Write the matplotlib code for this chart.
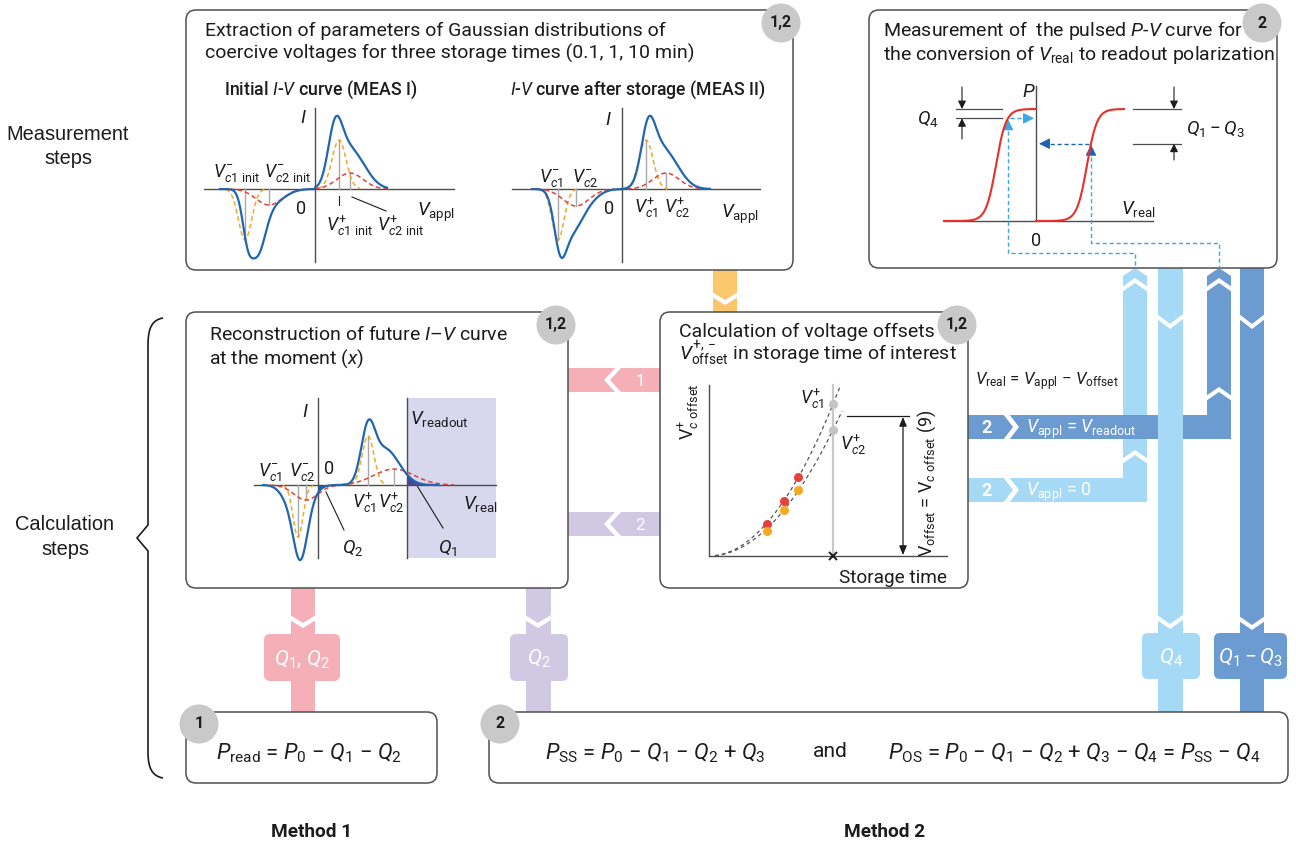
import numpy as np
import matplotlib
matplotlib.use("Agg")
import matplotlib.pyplot as plt
from matplotlib.patches import FancyBboxPatch, Circle, Polygon, Rectangle, PathPatch
from matplotlib.path import Path

W, H = 1296, 844

# ---- Gaussian components (centre, amplitude, width) of the I-V sketches ----
init_blue = [(20, 50, 7), (30, 28, 11), (44, 20, 12), (-68, -30, 5), (-58, -56, 8), (-44, -14, 13)]
init_orange = [(24, 49, 7), (-70, -51, 6.5)]
init_red = [(35, 16, 13), (-46, -16, 13)]

stor_blue = [(26, 50, 7), (36, 28, 11), (50, 20, 12), (-62, -44, 6), (-52, -34, 10), (-38, -14, 12)]
stor_orange = [(24, 49, 7), (-64, -51, 6)]
stor_red = [(44, 16, 13), (-46, -17, 13)]

fut_blue = [(50, 54, 7), (66, 30, 11), (80, 10, 11), (-18, -60, 7), (-12, -14, 9), (-30, -12, 8)]
fut_orange = [(50, 49, 6), (-20, -52, 5)]
fut_red = [(76, 16, 20), (-12, -15, 12)]
v_readout = 89

# ---- coercive-voltage offsets versus storage time ----
t_meas = [0.58, 0.75, 0.89]
vc1_meas = [0.32, 0.55, 0.79]
vc2_meas = [0.25, 0.46, 0.66]
t_interest = 1.24
v_offset_mark = 1.40

# ---- pulsed P-V curve ----
p_sat = 112
vc_neg, vc_pos = -40, 51
pv_width = 10
v_os, v_ss = -28, 55

INK = '#1c1c1c'
C_BLUE = '#2166b0'
C_ORANGE = '#f4a825'
C_RED = '#e5413b'
C_AX = '#4d4d4d'
C_GRID = '#a8a8a8'
PINK = '#f5b0b7'
LAV = '#d1c9e3'
ORANGE_R = '#fbc76d'
LBLUE = '#a5d9f5'
MBLUE = '#6b9bd1'
DASH_L = '#3aa6e6'
DASH_D = '#1d62b4'

plt.rcParams['font.family'] = ['Roboto', 'DejaVu Sans']
plt.rcParams['mathtext.fontset'] = 'custom'
plt.rcParams['mathtext.rm'] = 'Roboto'
plt.rcParams['mathtext.it'] = 'Roboto:italic'
plt.rcParams['mathtext.bf'] = 'Roboto:bold'
plt.rcParams['mathtext.sf'] = 'Roboto'

fig = plt.figure(figsize=(W / 100, H / 100), dpi=100)
fig.patch.set_facecolor('white')
ax = fig.add_axes([0, 0, 1, 1])
ax.set_xlim(0, W)
ax.set_ylim(H, 0)
ax.axis('off')


def T(x, y, s, size=17, ha='left', color=INK, weight='normal', family=None, rot=0, z=6):
    kw = {}
    if family:
        kw['family'] = family
    if rot:
        ax.text(x, y, s, fontsize=size * 0.72, ha='center', va='center', color=color,
                fontweight=weight, rotation=rot, zorder=z, **kw)
    else:
        ax.text(x, y + 0.36 * size, s, fontsize=size * 0.72, ha=ha, va='baseline',
                color=color, fontweight=weight, zorder=z, **kw)


def box(x0, y0, x1, y1):
    ax.add_patch(FancyBboxPatch((x0, y0), x1 - x0, y1 - y0,
                                boxstyle='round,pad=0,rounding_size=10',
                                fc='white', ec='#505050', lw=1.1, zorder=3))


def badge(x, y, s):
    ax.add_patch(Circle((x, y), 19.5, fc='#c9c9c9', ec='none', zorder=5))
    ax.text(x, y, s, fontsize=16 * 0.72, ha='center', va='center', fontweight='bold',
            color=INK, zorder=6)


def poly(pts, color, z=1):
    ax.add_patch(Polygon(pts, closed=True, fc=color, ec='none', zorder=z))


def rect(x0, y0, x1, y1, color, z=1):
    poly([(x0, y0), (x1, y0), (x1, y1), (x0, y1)], color, z)


def chevron(xc, yc, half, depth, direction, thick=5):
    if direction == 'down':
        pts = [(xc - half, yc - depth), (xc, yc), (xc + half, yc - depth),
               (xc + half, yc - depth + thick), (xc, yc + thick), (xc - half, yc - depth + thick)]
    elif direction == 'up':
        pts = [(xc - half, yc + depth), (xc, yc), (xc + half, yc + depth),
               (xc + half, yc + depth - thick), (xc, yc - thick), (xc - half, yc + depth - thick)]
    elif direction == 'right':
        pts = [(xc - depth, yc - half), (xc, yc), (xc - depth, yc + half),
               (xc - depth + thick, yc + half), (xc + thick, yc), (xc - depth + thick, yc - half)]
    else:
        pts = [(xc + depth, yc - half), (xc, yc), (xc + depth, yc + half),
               (xc + depth - thick, yc + half), (xc - thick, yc), (xc + depth - thick, yc - half)]
    poly(pts, 'white', z=2)


def qbox(x0, y0, x1, y1, color, s):
    ax.add_patch(FancyBboxPatch((x0, y0), x1 - x0, y1 - y0,
                                boxstyle='round,pad=0,rounding_size=6',
                                fc=color, ec='none', zorder=2))
    T((x0 + x1) / 2, (y0 + y1) / 2, s, size=21, ha='center', color='white')


def inset(x0, y0, x1, y1, ox, oy, scale=1.0):
    a = fig.add_axes([x0 / W, 1 - y1 / H, (x1 - x0) / W, (y1 - y0) / H])
    a.set_xlim((x0 - ox) / scale, (x1 - ox) / scale)
    a.set_ylim((oy - y1) / scale, (oy - y0) / scale)
    a.axis('off')
    a.patch.set_visible(False)
    return a


def gauss(x, c, amp, s):
    return amp * np.exp(-0.5 * ((x - c) / s) ** 2)


def curve(x, comps, split):
    y = np.zeros_like(x)
    for c, amp, s in comps:
        g = gauss(x, c, amp, s)
        if split:
            g = np.where(x >= 0, g, 0) if amp > 0 else np.where(x <= 0, g, 0)
        y += g
    return y


def iv_panel(a, blue, orange, red, xl, xr, yb, yt, blue_rng, split=True):
    a.plot([xl, xr], [0, 0], color=C_AX, lw=1.0, zorder=2)
    a.plot([0, 0], [yb, yt], color=C_AX, lw=1.0, zorder=2)
    for comps in (orange, red):
        for c, amp, s in comps:
            a.plot([c, c], [0, amp], color=C_GRID, lw=1.0, zorder=3)
    for comps, col in ((orange, C_ORANGE), (red, C_RED)):
        for c, amp, s in comps:
            lo, hi = c - 3 * s, c + 3 * s
            if split:
                lo, hi = (max(lo, 0), hi) if amp > 0 else (lo, min(hi, 0))
            x = np.linspace(lo, hi, 200)
            a.plot(x, gauss(x, c, amp, s), color=col, lw=1.1, ls=(0, (3, 2)), zorder=4)
    x = np.linspace(blue_rng[0], blue_rng[1], 900)
    y = curve(x, blue, split)
    a.plot(x, y, color=C_BLUE, lw=1.6, zorder=5)
    return x, y


# ---------------- ribbons (drawn under the boxes) ----------------
# orange: measurement -> offsets
rect(713, 262, 737, 320, ORANGE_R)
chevron(725, 300, 13, 8, 'down')
# pink / lavender horizontal: offsets -> reconstruction
rect(560, 368, 668, 392, PINK)
chevron(610, 380, 13, 12, 'left', thick=6)
T(640, 380, '1', size=17, ha='center', color='white')
rect(560, 512, 668, 536, LAV)
chevron(610, 524, 13, 12, 'left', thick=6)
T(640, 524, '2', size=17, ha='center', color='white')
# pink / lavender vertical: reconstruction -> results
rect(291, 580, 315, 720, PINK)
chevron(303, 623, 13, 8, 'down')
qbox(264, 634, 340, 681, PINK, r'$Q_1$, $Q_2$')
rect(526, 580, 551, 720, LAV)
chevron(538, 623, 13, 8, 'down')
qbox(510, 634, 568, 681, LAV, r'$Q_2$')
# light blue L-shaped ribbon (V_appl = 0)
poly([(960, 478), (1123, 478), (1123, 276), (1135, 268), (1147, 276),
      (1147, 502), (960, 502)], LBLUE)
chevron(1135, 283, 13, 9, 'up')
chevron(1135, 455, 13, 9, 'up')
chevron(1013, 490, 13, 10, 'right', thick=6)
T(987, 490, '2', size=18, ha='center', color='white', weight='bold')
T(1026, 490, r'$V_{\mathrm{appl}}$ = 0', size=18, color='white')
# mid blue L-shaped ribbon (V_appl = V_readout)
poly([(960, 415), (1207, 415), (1207, 276), (1219, 268), (1231, 276),
      (1231, 439), (960, 439)], MBLUE)
chevron(1219, 283, 13, 9, 'up')
chevron(1219, 392, 13, 9, 'up')
chevron(1013, 427, 13, 10, 'right', thick=6)
T(987, 427, '2', size=18, ha='center', color='white', weight='bold')
T(1026, 427, r'$V_{\mathrm{appl}}$ = $V_{\mathrm{readout}}$', size=18, color='white')
# long vertical ribbons: P-V curve -> results
rect(1158, 260, 1183, 720, LBLUE)
chevron(1170, 324, 13, 10, 'down')
chevron(1170, 624, 13, 9, 'down')
qbox(1142, 633, 1200, 679, LBLUE, r'$Q_4$')
rect(1240, 260, 1264, 720, MBLUE)
chevron(1252, 324, 13, 10, 'down')
chevron(1252, 625, 13, 9, 'down')
qbox(1214, 633, 1287, 679, MBLUE, r'$Q_1 - Q_3$')

# ---------------- boxes and badges ----------------
box(186, 10, 793, 270)
box(869, 10, 1277, 268)
box(186, 312, 568, 588)
box(660, 312, 968, 588)
box(186, 712, 437, 783)
box(489, 712, 1288, 783)
badge(781, 23, '1,2')
badge(1262, 23, '2')
badge(556, 325, '1,2')
badge(957, 325, '1,2')
badge(199, 724, '1')
badge(500, 724, '2')

# ---------------- side labels and brace ----------------
T(68, 133, 'Measurement', size=20, ha='center', family='Liberation Sans')
T(68, 157, 'steps', size=20, ha='center', family='Liberation Sans')
T(65, 523, 'Calculation', size=20, ha='center', family='Liberation Sans')
T(65, 548, 'steps', size=20, ha='center', family='Liberation Sans')
brace = Path([(163, 318), (152, 320), (148, 328), (148, 345), (148, 525), (137, 538), (148, 551),
              (148, 752), (148, 768), (152, 776), (163, 778)],
             [Path.MOVETO, Path.CURVE4, Path.CURVE4, Path.CURVE4, Path.LINETO, Path.LINETO,
              Path.LINETO, Path.LINETO, Path.CURVE4, Path.CURVE4, Path.CURVE4])
ax.add_patch(PathPatch(brace, fc='none', ec=INK, lw=1.2, zorder=4))
T(312, 830, 'Method 1', size=19, ha='center', weight='bold')
T(885, 830, 'Method 2', size=19, ha='center', weight='bold')

# ---------------- top-left box: Gaussian extraction ----------------
T(205, 29, 'Extraction of parameters of Gaussian distributions of', size=19.5)
T(205, 52, 'coercive voltages for three storage times (0.1, 1, 10 min)', size=19.5)
T(321, 88, r'Initial $I$-$V$ curve (MEAS I)', size=17.8, ha='center', weight='medium')
T(638, 88, r'$I$-$V$ curve after storage (MEAS II)', size=17.6, ha='center', weight='medium')

a_i = inset(204, 100, 456, 266, 315, 189)
iv_panel(a_i, init_blue, init_orange, init_red, -111, 139, -73, 81, (-95, 72))
T(300, 116, r'$I$', size=19)
T(301, 208, '0', size=18, ha='center')
T(417, 209, r'$V_{\mathrm{appl}}$', size=19)
T(213, 171, r'$V^{-}_{c1\ \mathrm{init}}$', size=18)
T(264, 171, r'$V^{-}_{c2\ \mathrm{init}}$', size=18)
T(326, 225, r'$V^{+}_{c1\ \mathrm{init}}$', size=18)
T(377, 225, r'$V^{+}_{c2\ \mathrm{init}}$', size=18)
ax.plot([339, 339], [196, 205], color=INK, lw=0.8, zorder=5)
ax.plot([352, 386], [197, 211], color=INK, lw=0.8, zorder=5)

a_s = inset(510, 100, 762, 266, 622, 189)
iv_panel(a_s, stor_blue, stor_orange, stor_red, -110, 138, -73, 81, (-90, 88))
T(605, 118, r'$I$', size=19)
T(609, 208, '0', size=18, ha='center')
T(721, 211, r'$V_{\mathrm{appl}}$', size=19)
T(539, 176, r'$V^{-}_{c1}$', size=18)
T(572, 176, r'$V^{-}_{c2}$', size=18)
T(634, 207, r'$V^{+}_{c1}$', size=18)
T(664, 207, r'$V^{+}_{c2}$', size=18)

# ---------------- top-right box: pulsed P-V curve ----------------
T(883, 29, r'Measurement of  the pulsed $P$-$V$ curve for', size=19.5)
T(883, 53, r'the conversion of $V_{\mathrm{real}}$ to readout polarization', size=19.5)

a_pv = inset(940, 80, 1160, 225, 1036, 221)
a_pv.plot([-92, 117], [0, 0], color=C_AX, lw=1.0)
a_pv.plot([0, 0], [0, 135], color=C_AX, lw=1.0)


def pv(v, vc):
    return p_sat / 2 * (1 + np.tanh((v - vc) / pv_width))


vl = np.linspace(-92, 0, 300)
vr = np.linspace(0, 88, 300)
a_pv.plot(vl, pv(vl, vc_neg), color='#e8302a', lw=1.5, zorder=4)
a_pv.plot(vr, pv(vr, vc_pos), color='#e8302a', lw=1.5, zorder=4)
p_os = pv(v_os, vc_neg)
p_ss = pv(v_ss, vc_pos)
dash = (0, (3, 2))
a_pv.plot([v_os, v_os, 99, 99], [p_os - 6, -32, -32, -47], color=DASH_L, lw=1.0, ls=dash,
          clip_on=False, zorder=3)
a_pv.plot([v_ss, v_ss, 183, 183], [p_ss - 6, -22, -22, -47], color=DASH_L, lw=1.0, ls=dash,
          clip_on=False, zorder=3)
a_pv.plot([v_os + 2, -5], [p_os, p_os], color=DASH_L, lw=1.0, ls=dash, zorder=3)
a_pv.plot([v_ss - 2, 6], [p_ss, p_ss], color=DASH_D, lw=1.0, ls=dash, zorder=3)


def head(a, tip, frm, color, ms=11):
    a.annotate('', xy=tip, xytext=frm, annotation_clip=False,
               arrowprops=dict(arrowstyle='-|>,head_length=0.6,head_width=0.3', color=color,
                               lw=0.8, shrinkA=0, shrinkB=0, mutation_scale=ms))


head(a_pv, (v_os, p_os - 1), (v_os, p_os - 8), DASH_L)
head(a_pv, (-2, p_os), (-9, p_os), DASH_L)
head(a_pv, (v_ss, p_ss - 1), (v_ss, p_ss - 8), DASH_D)
head(a_pv, (3, p_ss), (10, p_ss), DASH_D)
# Q4 and Q1 - Q3 markers
for xa, xb, xm, plow, ylow in ((-80, -34, -74, p_os, 82), (97, 145, 138, p_ss, 61)):
    a_pv.plot([xa, xb], [p_sat, p_sat], color=C_AX, lw=0.9, clip_on=False)
    a_pv.plot([xa, xb], [plow, plow], color=C_AX, lw=0.9, clip_on=False)
    head(a_pv, (xm, p_sat), (xm, 134), INK, ms=8)
    head(a_pv, (xm, plow), (xm, ylow), INK, ms=8)
T(1022, 90, r'$P$', size=19)
T(1036, 240, '0', size=18, ha='center')
T(1121, 207, r'$V_{\mathrm{real}}$', size=19)
T(917, 117, r'$Q_4$', size=19)
T(1186, 127, r'$Q_1 - Q_3$', size=19)

# ---------------- middle-left box: future I-V curve ----------------
T(209, 333, r'Reconstruction of future $I$–$V$ curve', size=19.5)
T(209, 357, r'at the moment ($x$)', size=19.5)

# readout window shading (behind the curve, above the box fill)
ax.add_patch(Rectangle((407, 398), 89, 160, fc='#d7d7ee', ec='none', zorder=4))
a_f = inset(250, 395, 500, 562, 318, 485)
a_f.plot([v_readout, v_readout], [-73, 87], color=C_AX, lw=1.0, zorder=2)
xf, yf = iv_panel(a_f, fut_blue, fut_orange, fut_red, -64, 178, -73, 87, (-55, 120), split=False)
m1 = xf >= v_readout
a_f.fill_between(xf[m1], yf[m1], 0, color='#4a4796', lw=0, zorder=4)
m2 = (xf >= 0) & (xf <= 16)
a_f.fill_between(xf[m2], np.minimum(yf[m2], 0), 0, color='#1f5ca8', lw=0, zorder=4)
T(302, 410, r'$I$', size=19)
T(329, 468, '0', size=18, ha='center')
T(258, 470, r'$V^{-}_{c1}$', size=18)
T(289, 470, r'$V^{-}_{c2}$', size=18)
T(352, 502, r'$V^{+}_{c1}$', size=18)
T(378, 502, r'$V^{+}_{c2}$', size=18)
T(410, 417, r'$V_{\mathrm{readout}}$', size=19)
T(463, 502, r'$V_{\mathrm{real}}$', size=19)
T(342, 546, r'$Q_2$', size=19)
T(438, 546, r'$Q_1$', size=19)
ax.plot([326, 344], [492, 530], color=INK, lw=0.8, zorder=5)
ax.plot([416, 443], [484, 528], color=INK, lw=0.8, zorder=5)

# ---------------- middle box: voltage offsets ----------------
T(679, 330, 'Calculation of voltage offsets', size=19.5)
T(679, 353, r'$V^{+,-}_{\mathrm{offset}}$ in storage time of interest', size=19.5)

a_t = inset(700, 380, 950, 562, 709, 556, scale=100)
a_t.plot([0, 2.38], [0, 0], color=C_AX, lw=1.0)
a_t.plot([0, 0], [0, 1.71], color=C_AX, lw=1.0)
a_t.plot([t_interest, t_interest], [0, 1.71], color='#c8c8c8', lw=1.6, zorder=1)
tm = np.array(t_meas)
fits = []
for vals in (vc1_meas, vc2_meas):
    v = np.array(vals)
    k = np.sum(v * tm ** 2) / np.sum(tm ** 4)
    fits.append(k)
    tt = np.linspace(0.06, min(1.33, np.sqrt(1.71 / k)), 200)
    a_t.plot(tt, k * tt ** 2, color='#555555', lw=0.9, ls=(0, (3, 2.5)), zorder=2)
a_t.plot(t_meas, vc1_meas, 'o', color='#e5413b', ms=6.5, mec='none', zorder=4)
a_t.plot(t_meas, vc2_meas, 'o', color='#f5a91f', ms=6.5, mec='none', zorder=4)
a_t.plot([t_interest] * 2, [fits[0] * t_interest ** 2, fits[1] * t_interest ** 2], 'o',
         color='#c4c4c4', ms=6.5, mec='none', zorder=4)
a_t.plot([t_interest], [0], marker='x', color=INK, ms=6, mew=1.4, clip_on=False, zorder=5)
a_t.plot([1.38, 2.0], [v_offset_mark, v_offset_mark], color=INK, lw=0.9, clip_on=False)
a_t.annotate('', xy=(1.94, 0.01), xytext=(1.94, v_offset_mark - 0.01), annotation_clip=False,
             arrowprops=dict(arrowstyle='<|-|>,head_length=0.6,head_width=0.25', color=INK,
                             lw=0.9, shrinkA=0, shrinkB=0, mutation_scale=9))
T(800, 398, r'$V^{+}_{c1}$', size=18)
T(840, 444, r'$V^{+}_{c2}$', size=18)
T(893, 576, 'Storage time', size=19, ha='center')
T(688, 412, r'$\mathrm{V}^{+}_{c\ \mathrm{offset}}$', size=18, rot=90)
T(927, 483, r'$\mathrm{V}_{\mathrm{offset}}$ = $\mathrm{V}_{c\ \mathrm{offset}}$ (9)', size=18, rot=90)

T(975, 379, r'$V_{\mathrm{real}}$ = $V_{\mathrm{appl}}$ $-$ $V_{\mathrm{offset}}$', size=17)

# ---------------- results ----------------
T(216, 751, r'$P_{\mathrm{read}}$ = $P_0$ $-$ $Q_1$ $-$ $Q_2$', size=22)
T(545, 751, r'$P_{\mathrm{SS}}$ = $P_0$ $-$ $Q_1$ $-$ $Q_2$ + $Q_3$', size=22)
T(830, 749, 'and', size=21, ha='center')
T(888, 751, r'$P_{\mathrm{OS}}$ = $P_0$ $-$ $Q_1$ $-$ $Q_2$ + $Q_3$ $-$ $Q_4$ = $P_{\mathrm{SS}}$ $-$ $Q_4$',
  size=22)

fig.savefig('out.png', dpi=100, facecolor='white')
